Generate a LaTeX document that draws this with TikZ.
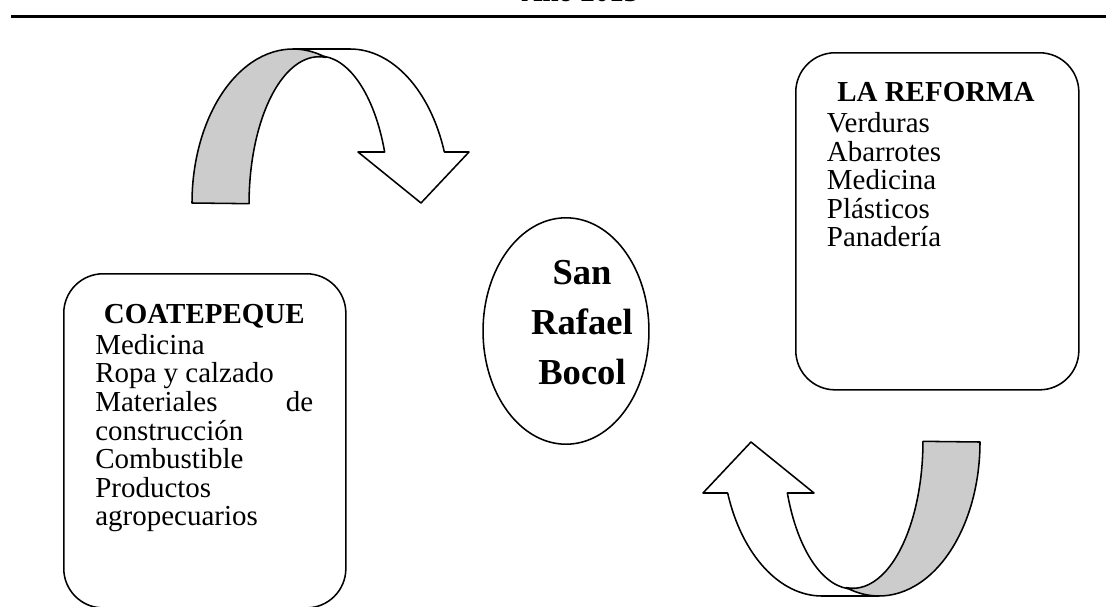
\documentclass[tikz,border=0pt]{standalone}
\usepackage{fontspec}
\setmainfont{Liberation Serif}
\usetikzlibrary{positioning, shapes.geometric}

\tikzset{
	listbox/.style = {draw, line width=1.1pt, rounded corners=28pt, anchor=north west, inner sep=0pt},
	listtext/.style = {inner sep=0pt, font=\fontsize{20.6}{20.1}\selectfont},
	bentarrow/.pic = {
		% band that runs behind, with the head
		\draw[fill=white, line width=1.1pt, line join=round]
			(101,-154) -- (158,-154) arc[start angle=270, end angle=340.66, x radius=100, y radius=154]
			-- (277,-51) -- (229,0) -- (166,-51) -- (192.65,-51)
			arc[start angle=339.7, end angle=270, x radius=70, y radius=147] -- cycle;
		% shaded band in front
		\draw[fill=black!20, line width=1.1pt, line join=round]
			(0,0) arc[start angle=180, end angle=289, x radius=101, y radius=154]
			arc[start angle=275.6, end angle=180, x radius=70, y radius=147] -- cycle;
	}
}

\begin{document}
\begin{tikzpicture}[x=0.025cm, y=-0.025cm]
	\useasboundingbox (0,0) rectangle (1106,606);

	\node[anchor=base, inner sep=0pt, font=\bfseries\fontsize{20.6}{20}\selectfont] (year) at (580,1.5) {Año 2013};
	\draw[line width=1.5pt] (11,16.5) -- (1106,16.5);

	\node[listbox, minimum width=200.6pt, minimum height=237.6pt] (coate) at (63,273) {};
	\node[listtext, below right=21.3pt and 22.8pt of coate.north west] (coatelist) {\begin{tabular}{@{}p{155pt}@{}}
			\multicolumn{1}{@{}c@{}}{\textbf{COATEPEQUE}} \\[2pt]
			Medicina \\
			Ropa y calzado \\
			Materiales\hfill de \\
			construcción \\
			Combustible \\
			Productos \\
			agropecuarios
	\end{tabular}};

	\node[listbox, minimum width=201.3pt, minimum height=239.7pt] (reforma) at (795,52) {};
	\node[listtext, below right=20.6pt and 22.5pt of reforma.north west] (reformalist) {\begin{tabular}{@{}p{155pt}@{}}
			\multicolumn{1}{@{}c@{}}{\textbf{LA REFORMA}} \\[2pt]
			Verduras \\
			Abarrotes \\
			Medicina \\
			Plásticos \\
			Panadería
	\end{tabular}};

	\node[draw, ellipse, line width=1.1pt, inner sep=0pt, minimum width=118pt, minimum height=161pt] (bocol) at (566,331) {};
	\node[align=center, inner sep=0pt, font=\bfseries\fontsize{26}{35.6}\selectfont] (bocoltext) at (582,323) {San\\Rafael\\Bocol};

	\pic at (192,203) {bentarrow};
	\pic[rotate=180] at (980,442) {bentarrow};
\end{tikzpicture}
\end{document}
